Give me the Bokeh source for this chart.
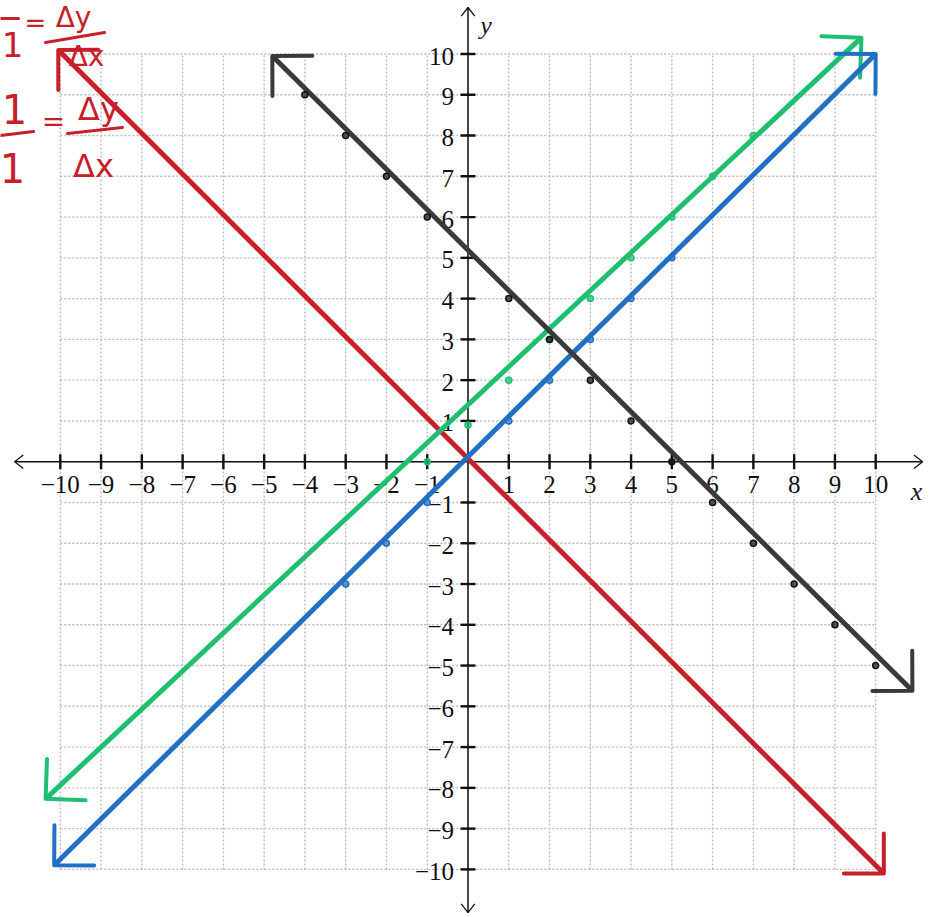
import numpy as np
from bokeh.plotting import figure
from bokeh.models import Range1d
from bokeh.core.properties import value
from bokeh.embed import file_html
from bokeh.resources import INLINE

W, H = 937, 917
UNIT = 40.77                      # pixels per unit (same on both axes)
ORIGIN_X, ORIGIN_Y = 467.5, 461.2  # pixel position of (0, 0)

# ---- axes and grid -------------------------------------------------------
ticks = list(range(-10, 11))
tick_vals = [t for t in ticks if t != 0]
tick_labels = [str(t).replace("-", "\u2212") for t in tick_vals]
axis_x_ends = [-11.12, 11.15]
axis_y_ends = [-11.06, 11.14]

# ---- the four lines (arrow tip to arrow tip) -----------------------------
red_x = [-10.05, 10.2]
red_y = [10.1, -10.1]
blue_x = [-10.15, 10.0]
blue_y = [-9.9, 10.0]
green_x = [-10.36, 9.65]
green_y = [-8.27, 10.4]
black_x = [-4.8, 10.9]
black_y = [9.95, -5.62]

# hand-marked points along each line
blue_pts_x = [-3, -2, -1, 1, 2, 3, 4, 5]
blue_pts_y = [-3, -2, -1, 1, 2, 3, 4, 5]
green_pts_x = [-1, 0, 1, 2, 3, 4, 5, 6, 7]
green_pts_y = [0, 0.9, 2, 3, 4, 5, 6, 7, 8]
black_pts_x = [-4, -3, -2, -1, 1, 2, 3, 4, 5, 6, 7, 8, 9, 10]
black_pts_y = [9, 8, 7, 6, 4, 3, 2, 1, 0, -1, -2, -3, -4, -5]

RED, BLUE, GREEN, BLACK = "#c8202a", "#2270c4", "#1fbf72", "#3a3a3a"


def px_x(px):
    return (px - ORIGIN_X) / UNIT


def px_y(py):
    return (ORIGIN_Y - py) / UNIT


def head(xt, yt, xf, yf, arm, spread):
    """Open arrow head at (xt, yt) for a line coming from (xf, yf)."""
    a = np.arctan2(yf - yt, xf - xt)
    xs = [xt + arm * np.cos(a + spread), xt, xt + arm * np.cos(a - spread)]
    ys = [yt + arm * np.sin(a + spread), yt, yt + arm * np.sin(a - spread)]
    return xs, ys


p = figure(width=W, height=H, output_backend="svg", toolbar_location=None,
           x_range=Range1d(-ORIGIN_X / UNIT, (W - ORIGIN_X) / UNIT),
           y_range=Range1d((ORIGIN_Y - H) / UNIT, ORIGIN_Y / UNIT),
           x_axis_location=None, y_axis_location=None, min_border=0)
p.grid.visible = False
p.outline_line_color = None
p.background_fill_color = "white"

# dotted grid bounded to [-10, 10]
lo, hi = ticks[0], ticks[-1]
p.segment(x0=ticks, y0=[lo] * len(ticks), x1=ticks, y1=[hi] * len(ticks),
          line_color="#bcbcbc", line_width=1.4, line_dash="2 2")
p.segment(x0=[lo] * len(ticks), y0=ticks, x1=[hi] * len(ticks), y1=ticks,
          line_color="#bcbcbc", line_width=1.4, line_dash="2 2")

# axis lines with open arrow heads
p.segment(x0=[axis_x_ends[0], 0], y0=[0, axis_y_ends[0]],
          x1=[axis_x_ends[1], 0], y1=[0, axis_y_ends[1]],
          line_color="#111111", line_width=1.5)
ah_xs, ah_ys = [], []
for (xt, yt, xf, yf) in [(axis_x_ends[0], 0, 0, 0), (axis_x_ends[1], 0, 0, 0),
                         (0, axis_y_ends[0], 0, 0), (0, axis_y_ends[1], 0, 0)]:
    xs, ys = head(xt, yt, xf, yf, 11 / UNIT, np.radians(38))
    ah_xs.append(xs)
    ah_ys.append(ys)
p.multi_line(xs=ah_xs, ys=ah_ys, line_color="#111111", line_width=1.3)

# tick marks
p.scatter(x=tick_vals, y=[0] * len(tick_vals), marker="dash", angle=np.pi / 2,
          size=15, line_width=2.4, line_color="#111111")
p.scatter(x=[0] * len(tick_vals), y=tick_vals, marker="dash",
          size=15, line_width=2.4, line_color="#111111")

# tick labels
serif = value("Liberation Serif")
p.text(x=tick_vals, y=[0] * len(tick_vals), text=tick_labels,
       text_align="center", text_baseline="top", y_offset=14,
       text_font=serif, text_font_size="25px", text_color="#111111")
p.text(x=[0] * len(tick_vals), y=tick_vals, text=tick_labels,
       text_align="right", text_baseline="middle", x_offset=-14, y_offset=2,
       text_font=serif, text_font_size="25px", text_color="#111111")
p.text(x=[axis_x_ends[1] - 0.15], y=[0], text=["x"], text_align="center",
       text_baseline="middle", y_offset=30, text_font=serif,
       text_font_style="italic", text_font_size="26px", text_color="#1a1a1a")
p.text(x=[0], y=[axis_y_ends[1] - 0.15], text=["y"], text_align="center",
       text_baseline="middle", x_offset=18, y_offset=12, text_font=serif,
       text_font_style="italic", text_font_size="26px", text_color="#1a1a1a")

# the lines with hand-drawn style arrow heads
ARM = 40 / UNIT
for lx, ly, c in [(red_x, red_y, RED), (green_x, green_y, GREEN),
                  (blue_x, blue_y, BLUE), (black_x, black_y, BLACK)]:
    p.line(x=lx, y=ly, line_color=c, line_width=5)
    hx, hy = [], []
    for i in (0, 1):
        xs, ys = head(lx[i], ly[i], lx[1 - i], ly[1 - i], ARM, np.radians(45))
        hx.append(xs)
        hy.append(ys)
    p.multi_line(xs=hx, ys=hy, line_color=c, line_width=4,
                 line_cap="round", line_join="round")

# marked points
for px_, py_, c in [(blue_pts_x, blue_pts_y, BLUE),
                    (green_pts_x, green_pts_y, GREEN),
                    (black_pts_x, black_pts_y, "#111111")]:
    p.scatter(x=px_, y=py_, marker="circle", size=6, fill_color=c,
              fill_alpha=0.7, line_color=c, line_width=1.5)

# handwritten slope notes
hand = value("DejaVu Sans")
note_txt = ["1", "=", "\u0394y", "\u0394x", "1", "1", "=", "\u0394y", "\u0394x"]
note_px = [12, 35, 73, 86, 14, 12, 53, 98, 93]
note_py = [44, 22, 17, 56, 108, 167, 121, 108, 165]
note_sz = ["34px", "26px", "28px", "28px", "40px", "40px", "28px", "32px", "32px"]
p.text(x=[px_x(v) for v in note_px], y=[px_y(v) for v in note_py],
       text=note_txt, text_font_size=note_sz, text_align="center",
       text_baseline="middle", text_font=hand, text_color=RED)
bar_x0 = [0, 45, 0, 67]
bar_y0 = [18, 42, 135, 133]
bar_x1 = [18, 104, 33, 122]
bar_y1 = [18, 32, 131, 127]
p.segment(x0=[px_x(v) for v in bar_x0], y0=[px_y(v) for v in bar_y0],
          x1=[px_x(v) for v in bar_x1], y1=[px_y(v) for v in bar_y1],
          line_color=RED, line_width=3, line_cap="round")

open("out.html", "w").write(file_html(p, INLINE))
